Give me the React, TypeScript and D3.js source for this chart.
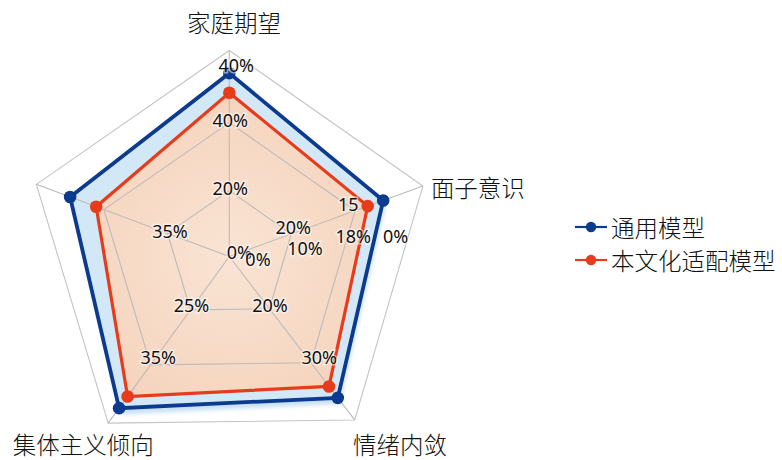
import React from "react";
import * as d3 from "d3";

// ---- data ----
const axisNames = ["家庭期望", "面子意识", "情绪内敛", "集体主义倾向", ""];
const seriesNames = ["通用模型", "本文化适配模型"];
const generalModel = [89, 79.5, 86.5, 91, 82.5];
const adaptedModel = [79.5, 71.5, 79.5, 84, 69];
const gridLevels = [32, 65, 100];
const tickAxis = [0, 1, 0, 0, 0, 4, 3, 2, 1, 1, 1, 1, 1, 3, 2];
const tickLevel = [0, 0, 32, 65, 100, 32, 32, 32, 32, 32, 65, 65, 100, 65, 65];
const tickText = ["0%", "0%", "20%", "40%", "40%", "35%", "25%", "20%", "20%", "10%", "15", "18%", "0%", "35%", "30%"];

// ---- layout ----
const W = 782, H = 460;
const cx = 229.3, cy = 256.5, R = 206;
const axisAngles = [90, 20, -52.5, -126, 159.5];
const tickNudge: [number, number][] = [
  [10, -4.5], [28.7, 2.5], [1, -3], [1, -2.6], [7, 14.5], [2.5, -2.4], [1, -5], [0.6, -3.8],
  [2, -6.7], [13.8, 13.7], [-6.8, -6.4], [-1.8, 25], [-27.2, 49.6], [7.7, -8.2], [8.5, -6],
];
const axisLabelNudge: [number, number, string][] = [
  [4.7, -28.5, "middle"], [8, 1, "start"], [45.3, 24, "middle"], [-25, 21, "middle"], [-20, 0, "end"],
];
const BLUE = "#0c3a8e";
const RED = "#e63c1c";

const r = d3.scaleLinear().domain([0, 100]).range([0, R]);
const pt = (i: number, v: number): [number, number] => {
  const a = (axisAngles[i] * Math.PI) / 180;
  return [cx + r(v) * Math.cos(a), cy - r(v) * Math.sin(a)];
};
const closed = d3.line<[number, number]>().curve(d3.curveLinearClosed);
const poly = (vals: number[]) => closed(vals.map((v, i) => pt(i, v))) as string;

export default function App() {
  const cjk = "'Noto Sans CJK SC', 'Noto Sans', sans-serif";
  const num = "'Noto Sans', 'DejaVu Sans', sans-serif";
  return (
    <div style={{ position: "fixed", left: 0, top: 0, width: W, height: H, background: "#fff" }}>
      <svg width={W} height={H} viewBox={`0 0 ${W} ${H}`}>
        <defs>
          <filter id="blur" x="-20%" y="-20%" width="140%" height="140%">
            <feGaussianBlur stdDeviation="2" />
          </filter>
          <radialGradient id="peach" cx={cx} cy={cy} r={R * 0.9} gradientUnits="userSpaceOnUse">
            <stop offset="0%" stopColor="#fae4d4" />
            <stop offset="100%" stopColor="#f4d2bb" />
          </radialGradient>
        </defs>
        {/* blue fill with soft shadow */}
        <path d={poly(generalModel)} transform="translate(2,6)" fill="#bcdaf1" opacity={0.85} filter="url(#blur)" />
        <path d={poly(generalModel)} fill="#d3e8f7" />
        {/* orange fill */}
        <path d={poly(adaptedModel)} fill="url(#peach)" />
        {/* grid */}
        {gridLevels.map((lv, k) => (
          <path key={"g" + k} d={poly(axisAngles.map(() => lv))} fill="none"
            stroke={k === gridLevels.length - 1 ? "#c4c4c4" : "#bdbab8"} strokeWidth={1.1} />
        ))}
        {axisAngles.map((_, i) => {
          const [x, y] = pt(i, 100);
          return <line key={"s" + i} x1={cx} y1={cy} x2={x} y2={y} stroke="#bdbab8" strokeWidth={1.1} />;
        })}
        {/* series lines */}
        <path d={poly(generalModel)} fill="none" stroke={BLUE} strokeWidth={3.8} strokeLinejoin="miter" />
        <path d={poly(adaptedModel)} fill="none" stroke={RED} strokeWidth={3.2} strokeLinejoin="miter" />
        {generalModel.map((v, i) => {
          const [x, y] = pt(i, v);
          return <circle key={"b" + i} cx={x} cy={y} r={6.3} fill={BLUE} />;
        })}
        {adaptedModel.map((v, i) => {
          const [x, y] = pt(i, v);
          return <circle key={"o" + i} cx={x} cy={y} r={6.3} fill={RED} />;
        })}
        {/* tick labels */}
        {tickText.map((t, k) => {
          const [x, y] = pt(tickAxis[k], tickLevel[k]);
          return (
            <text key={"t" + k} x={x + tickNudge[k][0]} y={y + tickNudge[k][1]} textAnchor="middle"
              dominantBaseline="central" fontFamily={num} fontSize={18} fill="#111"
              stroke="rgba(255,255,255,0.55)" strokeWidth={3} paintOrder="stroke">
              {t}
            </text>
          );
        })}
        {/* axis labels */}
        {axisNames.map((n, i) => {
          const [x, y] = pt(i, 100);
          const [dx, dy, anchor] = axisLabelNudge[i];
          return (
            <text key={"a" + i} x={x + dx} y={y + dy} textAnchor={anchor as any} dominantBaseline="central"
              fontFamily={cjk} fontSize={23.5} fontWeight={300} fill="#111">
              {n}
            </text>
          );
        })}
        {/* legend */}
        {seriesNames.map((n, k) => {
          const y = 227 + k * 33;
          const c = k === 0 ? BLUE : RED;
          return (
            <g key={"l" + k}>
              <line x1={575} x2={607} y1={y} y2={y} stroke={c} strokeWidth={2.2} />
              <circle cx={591} cy={y} r={5.2} fill={c} />
              <text x={611} y={y} dominantBaseline="central" fontFamily={cjk} fontSize={23.5} fontWeight={300} fill="#111">
                {n}
              </text>
            </g>
          );
        })}
      </svg>
    </div>
  );
}
